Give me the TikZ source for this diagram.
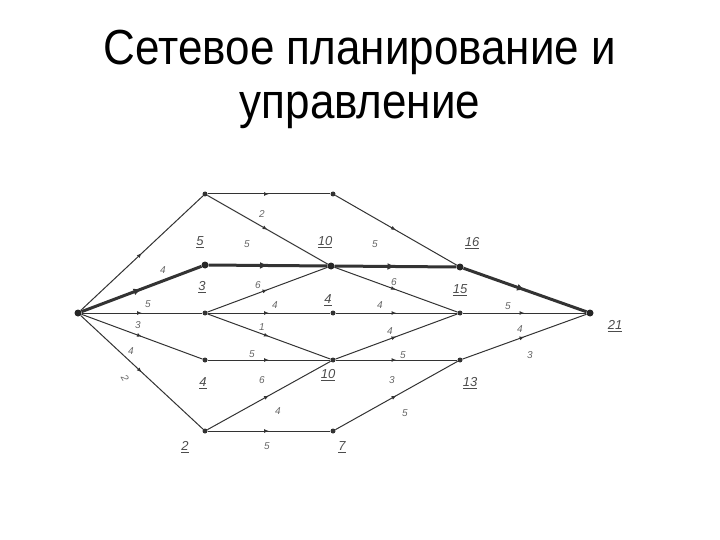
\documentclass[tikz,border=0pt]{standalone}
\usepackage{fontspec}
\setmainfont{Liberation Sans}
\usetikzlibrary{decorations.markings,arrows.meta}
\begin{document}
\begin{tikzpicture}[x=1pt,y=-1pt,
  ev/.style={circle,fill=black!80,inner sep=0pt,minimum size=5pt},
  evb/.style={circle,fill=black!85,inner sep=0pt,minimum size=7pt},
  arc/.style={draw=black!80,line width=1pt,postaction={decorate},
    decoration={markings,mark=at position 0.5 with {\arrow{Latex[length=5pt,width=4pt]}}}},
  crit/.style={draw=black!80,line width=3pt,postaction={decorate},
    decoration={markings,mark=at position 0.5 with {\arrow{Latex[length=8pt,width=7pt]}}}},
  dur/.style={text=black!60,font=\fontsize{10}{11}\selectfont\itshape,inner sep=0pt},
  tm/.style={text=black!70,font=\fontsize{13}{14}\selectfont\itshape,inner sep=0pt},
  ttl/.style={anchor=base,font=\fontsize{44}{50}\selectfont,inner sep=0pt}]
\useasboundingbox (0,0) rectangle (720,540);
% title
\node[ttl] (t1) at (360,65) {\scalebox{1}[1.12]{Сетевое планирование и}};
\node[ttl] (t2) at (360,119) {\scalebox{1}[1.12]{управление}};
% events
\node[evb] (S) at (78,313) {};
\node[ev] (A) at (205,194) {};
\node[ev] (B) at (333,194) {};
\node[evb] (n5) at (205,265) {};
\node[evb] (n10) at (331,266) {};
\node[evb] (n16) at (460,267) {};
\node[ev] (n3) at (205,313) {};
\node[ev] (n4) at (333,313) {};
\node[ev] (n15) at (460,313) {};
\node[evb] (F) at (590,313) {};
\node[ev] (m4) at (205,360) {};
\node[ev] (m10) at (333,360) {};
\node[ev] (m13) at (460,360) {};
\node[ev] (m2) at (205,431) {};
\node[ev] (m7) at (333,431) {};
% arcs
\path[arc] (S) -- (A);
\path[arc] (S) -- (n3);
\path[arc] (S) -- (m4);
\path[arc] (S) -- (m2);
\path[arc] (A) -- (B);
\path[arc] (A) -- (n10);
\path[arc] (B) -- (n16);
\path[arc] (n3) -- (n10);
\path[arc] (n3) -- (n4);
\path[arc] (n3) -- (m10);
\path[arc] (n4) -- (n15);
\path[arc] (n10) -- (n15);
\path[arc] (n15) -- (F);
\path[arc] (m4) -- (m10);
\path[arc] (m10) -- (n15);
\path[arc] (m10) -- (m13);
\path[arc] (m13) -- (F);
\path[arc] (m2) -- (m10);
\path[arc] (m2) -- (m7);
\path[arc] (m7) -- (m13);
\path[crit] (S) -- (n5);
\path[crit] (n5) -- (n10);
\path[crit] (n10) -- (n16);
\path[crit] (n16) -- (F);
% durations
\node[dur] (d1) at (163,270) {4};
\node[dur] (d2) at (262,214) {2};
\node[dur] (d3) at (247,244) {5};
\node[dur] (d4) at (375,244) {5};
\node[dur] (d5) at (258,285) {6};
\node[dur] (d6) at (394,282) {6};
\node[dur] (d7) at (275,305) {4};
\node[dur] (d8) at (380,305) {4};
\node[dur] (d9) at (148,304) {5};
\node[dur] (d10) at (508,306) {5};
\node[dur] (d11) at (138,325) {3};
\node[dur] (d12) at (262,327) {1};
\node[dur] (d13) at (390,331) {4};
\node[dur] (d14) at (131,351) {4};
\node[dur] (d15) at (252,354) {5};
\node[dur] (d16) at (403,355) {5};
\node[dur] (d17) at (520,329) {4};
\node[dur] (d18) at (530,355) {3};
\node[dur,rotate=-60] (d19) at (125,378) {2};
\node[dur] (d20) at (262,380) {6};
\node[dur] (d21) at (392,380) {3};
\node[dur] (d22) at (278,411) {4};
\node[dur] (d23) at (405,413) {5};
\node[dur] (d24) at (267,446) {5};
% event times
\node[tm] (e1) at (200,242) {\underline{5}};
\node[tm] (e2) at (325,242) {\underline{10}};
\node[tm] (e3) at (472,243) {\underline{16}};
\node[tm] (e4) at (202,287) {\underline{3}};
\node[tm] (e5) at (328,300) {\underline{4}};
\node[tm] (e6) at (460,290) {\underline{15}};
\node[tm] (e7) at (615,326) {\underline{21}};
\node[tm] (e8) at (203,383) {\underline{4}};
\node[tm] (e9) at (328,375) {\underline{10}};
\node[tm] (e10) at (470,383) {\underline{13}};
\node[tm] (e11) at (185,447) {\underline{2}};
\node[tm] (e12) at (342,447) {\underline{7}};
\end{tikzpicture}
\end{document}
